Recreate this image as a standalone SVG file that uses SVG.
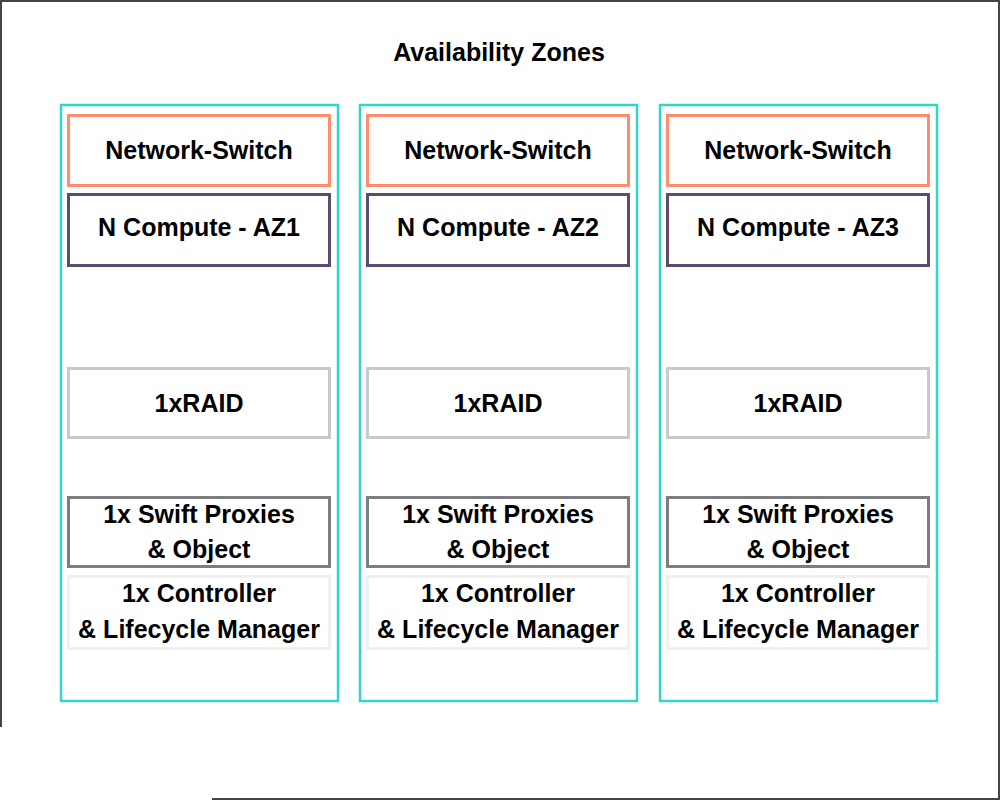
<svg xmlns="http://www.w3.org/2000/svg" width="1000" height="800" viewBox="0 0 1000 800">
  <style>
    .frame { stroke: #444; stroke-width: 2; fill: none; }
    .zone { fill: none; stroke: #32D6C8; stroke-width: 2.5; }
    .box { fill: #fff; stroke-width: 3; }
    .switch { stroke: #FF8D6D; }
    .compute { stroke: #5F4B6B; }
    .raid { stroke: #C8CACB; }
    .swift { stroke: #7D7C80; }
    .ctrl { stroke: #F1F0EF; }
    text { font-family: "Liberation Sans", Arial, sans-serif; font-weight: 700; font-size: 25px; fill: #000; text-anchor: middle; }
    #title { font-size: 25px; }
  </style>
  <rect width="1000" height="800" fill="#fff"/>
  <g id="frame">
    <line class="frame" x1="0" y1="1" x2="1000" y2="1"/>
    <line class="frame" x1="1" y1="0" x2="1" y2="727"/>
    <line class="frame" x1="999" y1="0" x2="999" y2="800"/>
    <line class="frame" x1="212" y1="799" x2="1000" y2="799"/>
  </g>
  <text id="title" x="499" y="61">Availability Zones</text>
  <g id="connectors"/>

  <g id="az1">
    <rect class="zone" x="61" y="105" width="277" height="596"/>
    <g id="az1-switch"><rect class="box switch" x="68.5" y="115.5" width="261" height="70"/><text x="199" y="159">Network-Switch</text></g>
    <g id="az1-compute"><rect class="box compute" x="68.5" y="194.5" width="261" height="71"/><text x="199" y="236">N Compute - AZ1</text></g>
    <g id="az1-raid"><rect class="box raid" x="68.5" y="368.5" width="261" height="69"/><text x="199" y="412">1xRAID</text></g>
    <g id="az1-swift"><rect class="box swift" x="68.5" y="497.5" width="261" height="69"/><text x="199" y="523">1x Swift Proxies</text><text x="199" y="558">&amp; Object</text></g>
    <g id="az1-ctrl"><rect class="box ctrl" x="68.5" y="576.5" width="261" height="72"/><text x="199" y="602">1x Controller</text><text x="199" y="638">&amp; Lifecycle Manager</text></g>
  </g>

  <g id="az2">
    <rect class="zone" x="360" y="105" width="277" height="596"/>
    <g id="az2-switch"><rect class="box switch" x="367.5" y="115.5" width="261" height="70"/><text x="498" y="159">Network-Switch</text></g>
    <g id="az2-compute"><rect class="box compute" x="367.5" y="194.5" width="261" height="71"/><text x="498" y="236">N Compute - AZ2</text></g>
    <g id="az2-raid"><rect class="box raid" x="367.5" y="368.5" width="261" height="69"/><text x="498" y="412">1xRAID</text></g>
    <g id="az2-swift"><rect class="box swift" x="367.5" y="497.5" width="261" height="69"/><text x="498" y="523">1x Swift Proxies</text><text x="498" y="558">&amp; Object</text></g>
    <g id="az2-ctrl"><rect class="box ctrl" x="367.5" y="576.5" width="261" height="72"/><text x="498" y="602">1x Controller</text><text x="498" y="638">&amp; Lifecycle Manager</text></g>
  </g>

  <g id="az3">
    <rect class="zone" x="660" y="105" width="277" height="596"/>
    <g id="az3-switch"><rect class="box switch" x="667.5" y="115.5" width="261" height="70"/><text x="798" y="159">Network-Switch</text></g>
    <g id="az3-compute"><rect class="box compute" x="667.5" y="194.5" width="261" height="71"/><text x="798" y="236">N Compute - AZ3</text></g>
    <g id="az3-raid"><rect class="box raid" x="667.5" y="368.5" width="261" height="69"/><text x="798" y="412">1xRAID</text></g>
    <g id="az3-swift"><rect class="box swift" x="667.5" y="497.5" width="261" height="69"/><text x="798" y="523">1x Swift Proxies</text><text x="798" y="558">&amp; Object</text></g>
    <g id="az3-ctrl"><rect class="box ctrl" x="667.5" y="576.5" width="261" height="72"/><text x="798" y="602">1x Controller</text><text x="798" y="638">&amp; Lifecycle Manager</text></g>
  </g>
</svg>
